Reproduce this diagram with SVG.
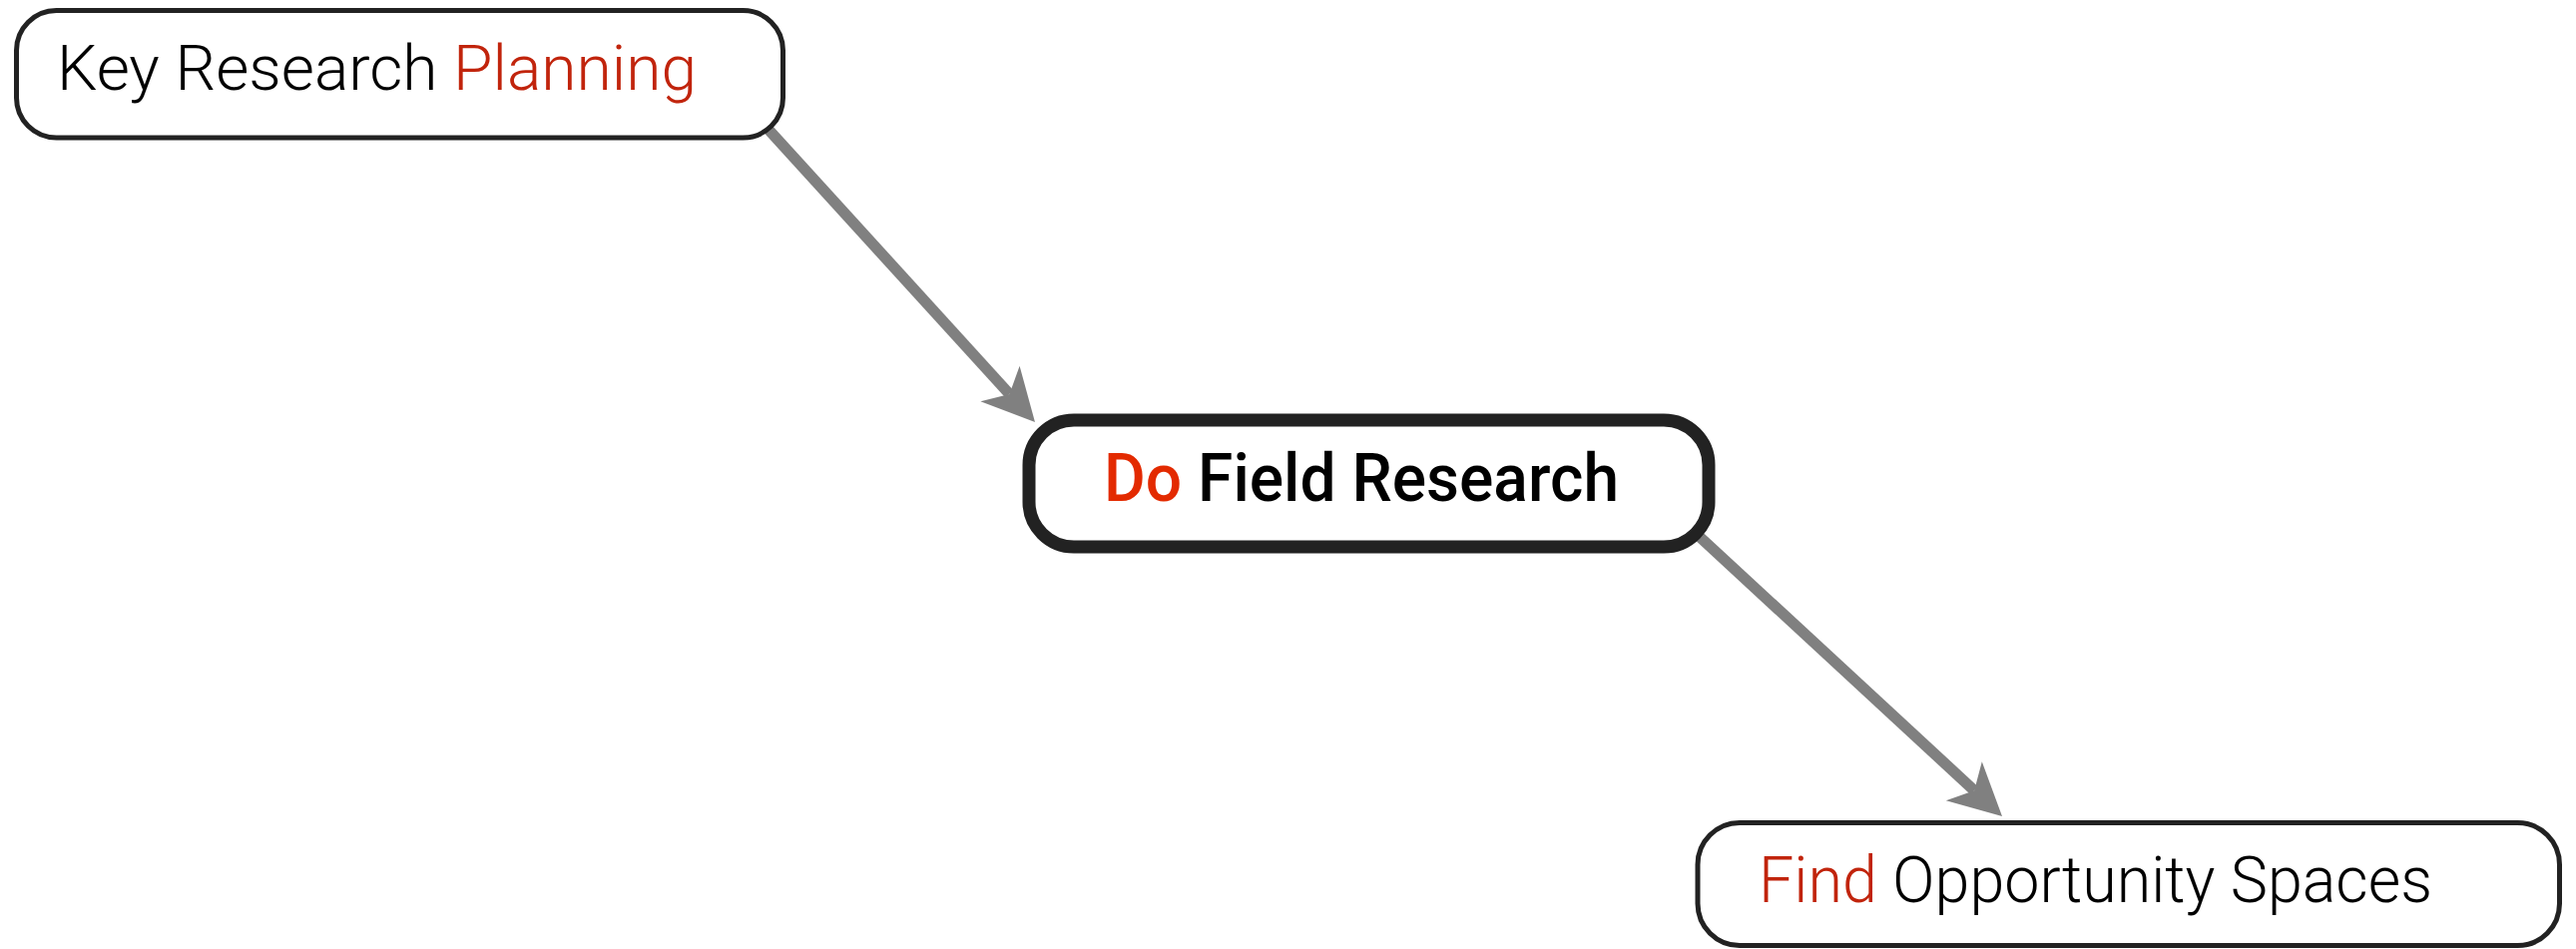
<svg xmlns="http://www.w3.org/2000/svg" width="2581" height="951" viewBox="0 0 2581 951">
<style>
.box{fill:#ffffff;stroke:#222222;stroke-width:5}
.box.main{stroke-width:13}
.lbl{font-family:Roboto,"Liberation Sans",sans-serif;font-weight:300;fill:#000000}
.lbl.main{font-weight:500}
.red{fill:#c1240c}
.red2{fill:#e32a00}
.shaft{stroke:#808080;stroke-width:11;fill:none}
.head{fill:#808080}
</style>
<rect width="2581" height="951" fill="#ffffff"/>
<g id="connectors">
<path class="shaft" d="M761,120 L1011.4,394.9"/>
<polygon class="head" points="1037,423 1021.6,366.7 1011.4,394.9 982.4,402.3"/>
<path class="shaft" d="M1690,526 L1978.1,792.2"/>
<polygon class="head" points="2006,818 1985.8,763.2 1978.1,792.2 1949.8,802.2"/>
</g>
<g id="node-key-research-planning">
<rect class="box" x="16.5" y="10.5" width="768" height="127.5" rx="40" ry="40"/>
<text class="lbl" x="57" y="90" font-size="63" textLength="641" lengthAdjust="spacingAndGlyphs">Key Research <tspan class="red">Planning</tspan></text>
</g>
<g id="node-do-field-research">
<rect class="box main" x="1031" y="421" width="681" height="127" rx="45" ry="45"/>
<text class="lbl main" x="1106" y="502" font-size="66" textLength="516" lengthAdjust="spacingAndGlyphs"><tspan class="red2">Do</tspan> Field Research</text>
</g>
<g id="node-find-opportunity-spaces">
<rect class="box" x="1701" y="824.5" width="863.5" height="123" rx="42" ry="42"/>
<text class="lbl" x="1762" y="904" font-size="64" textLength="675" lengthAdjust="spacingAndGlyphs"><tspan class="red">Find</tspan> Opportunity Spaces</text>
</g>
</svg>
